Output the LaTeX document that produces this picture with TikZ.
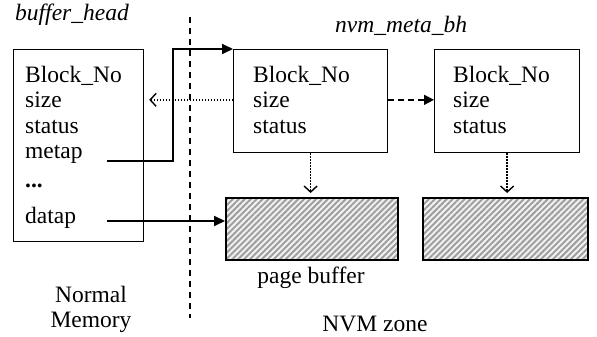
\documentclass[tikz,border=0pt]{standalone}
\usepackage{fontspec}
\setmainfont{Liberation Serif}
\usetikzlibrary{patterns.meta,arrows.meta,calc}
\begin{document}
\begin{tikzpicture}[x=1pt,y=-1pt,
  every node/.style={font=\fontsize{23.5}{26}\selectfont},
  txt/.style={anchor=base west,inner sep=0pt},
  ctxt/.style={anchor=base,inner sep=0pt},
  structbox/.style={draw,line width=1.2pt,anchor=north west,inner sep=0pt},
  hatchbox/.style={draw,line width=2pt,anchor=north west,inner sep=0pt,
     preaction={fill=gray!10},
     pattern={Lines[angle=45,distance=4.2pt,line width=2pt]},pattern color=gray!75},
  thickarr/.style={line width=1.8pt,-{Triangle[length=11pt,width=10pt]}},
  dotarr/.style={line width=1.5pt,dash pattern=on 1.4pt off 1.6pt},
  dasharr/.style={line width=1.5pt,dash pattern=on 6pt off 4pt,-{Triangle[length=10pt,width=10pt]}},
  barb/.style={-{Straight Barb[length=6pt,width=13pt,line width=1.4pt]}}
]
\useasboundingbox (0,0) rectangle (597,337);

% boxes
\node[structbox,minimum width=130pt,minimum height=192pt] (bh) at (13,49) {};
\node[structbox,minimum width=154pt,minimum height=103pt] (m1) at (233,49) {};
\node[structbox,minimum width=145pt,minimum height=103pt] (m2) at (434,49) {};
\node[hatchbox,minimum width=172pt,minimum height=62pt] (pb1) at (225,197) {};
\node[hatchbox,minimum width=165pt,minimum height=62pt] (pb2) at (422,197) {};

% separator
\coordinate (septop) at (190,17);
\coordinate (sepbot) at (190,318);
\draw[line width=1.5pt,dash pattern=on 6pt off 5pt] (septop) -- (sepbot);

% labels
\node[txt,font=\fontsize{23.5}{26}\selectfont\itshape] (lbh) at (15,21) {buffer\_head};
\node[txt,font=\fontsize{23.5}{26}\selectfont\itshape] (lnvm) at (335,33) {nvm\_meta\_bh};
\node[ctxt] (lpb) at (311,283) {page buffer};
\node[ctxt] (lnorm) at (91,302) {Normal};
\node[ctxt] (lmem) at (91,327) {Memory};
\node[ctxt] (lnvmz) at (375,331) {NVM zone};

% buffer_head fields
\node[txt] (b1) at (25,82) {Block\_No};
\node[txt] (b2) at (25,107.5) {size};
\node[txt] (b3) at (25,133) {status};
\node[txt] (b4) at (25,158.5) {metap};
\node[txt] (b5) at (25,187) {\textbf{...}};
\node[txt] (b6) at (25,223) {datap};

% nvm_meta_bh fields
\node[txt] (m1a) at (253,82) {Block\_No};
\node[txt] (m1b) at (253,107.5) {size};
\node[txt] (m1c) at (253,133) {status};
\node[txt] (m2a) at (453,82) {Block\_No};
\node[txt] (m2b) at (453,107.5) {size};
\node[txt] (m2c) at (453,133) {status};

% connectors
\coordinate (metaps) at (107,161);
\coordinate (dataps) at (107,221);
\draw[thickarr] (metaps) -- (173,161) |- (m1.north west);
\draw[thickarr] (dataps) -- (dataps -| pb1.west);
\draw[dotarr,barb] (m1.west |- m1b.center) -- ($(bh.east |- m1b.center)+(5,0)$);
\draw[dasharr] (m1.east |- m1b.center) -- (m2.west |- m1b.center);
\draw[dotarr,barb,shorten >=4pt] (m1.south) -- (m1.south |- pb1.north);
\draw[dotarr,barb,shorten >=4pt] (m2.south) -- (m2.south |- pb2.north);
\end{tikzpicture}
\end{document}
